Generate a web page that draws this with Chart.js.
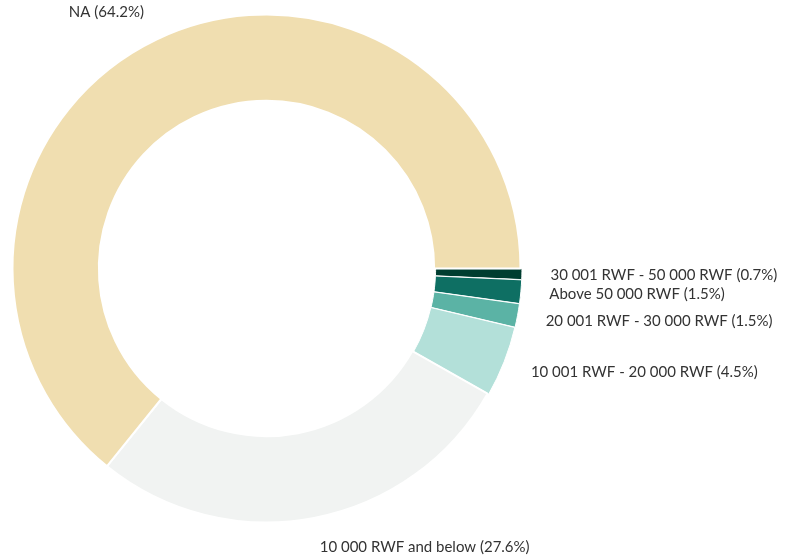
<!DOCTYPE html>
<html>
<head>
<meta charset="utf-8">
<script src="https://cdn.jsdelivr.net/npm/chart.js@4.4.1/dist/chart.umd.min.js"></script>
<style>
    html, body { margin: 0; padding: 0; background: #fff; }
    #wrap { width: 788px; height: 559px; }
</style>
</head>
<body>
<div id="wrap"><canvas id="myChart"></canvas></div>
<script>
const labels = [
    "30 001 RWF - 50 000 RWF",
    "Above 50 000 RWF",
    "20 001 RWF - 30 000 RWF",
    "10 001 RWF - 20 000 RWF",
    "10 000 RWF and below",
    "NA"
];
const shares = [0.7, 1.5, 1.5, 4.5, 27.6, 64.2];
const colors = ["#003d30", "#0e6f63", "#5bb3a5", "#b3e0d9", "#f1f3f2", "#f0deb0"];
const offsets = [3, 3, 3, 3, 0, 0];
const borders = [1, 1, 1, 1, 2, 2];

// labels outside the ring, on the mid angle of each slice
const outsideLabels = {
    id: "outsideLabels",
    afterDatasetsDraw(chart) {
        const ctx = chart.ctx;
        const meta = chart.getDatasetMeta(0);
        ctx.save();
        ctx.font = "15px Lato";
        ctx.fillStyle = "#333333";
        ctx.textBaseline = "middle";
        meta.data.forEach((arc, i) => {
            const p = arc.getProps(["x", "y", "startAngle", "endAngle", "outerRadius"], true);
            const mid = (p.startAngle + p.endAngle) / 2;
            const r = p.outerRadius + 30;
            const tx = p.x + Math.cos(mid) * r;
            const ty = p.y + Math.sin(mid) * r;
            ctx.textAlign = Math.cos(mid) >= 0 ? "left" : "right";
            ctx.fillText(labels[i] + " (" + shares[i] + "%)", tx, ty);
        });
        ctx.restore();
    }
};

const ctx = document.getElementById("myChart");
new Chart(ctx, {
    type: "doughnut",
    data: {
        labels,
        datasets: [{
            data: shares,
            backgroundColor: colors,
            borderColor: "#ffffff",
            borderWidth: borders,
            offset: offsets
        }]
    },
    options: {
        responsive: true,
        maintainAspectRatio: false,
        animation: false,
        rotation: 90,
        cutout: "66%",
        layout: {
            padding: { left: 10, top: 12, right: 265, bottom: 34 }
        },
        plugins: {
            legend: { display: false },
            tooltip: { enabled: false }
        }
    },
    plugins: [outsideLabels]
});
</script>
</body>
</html>
